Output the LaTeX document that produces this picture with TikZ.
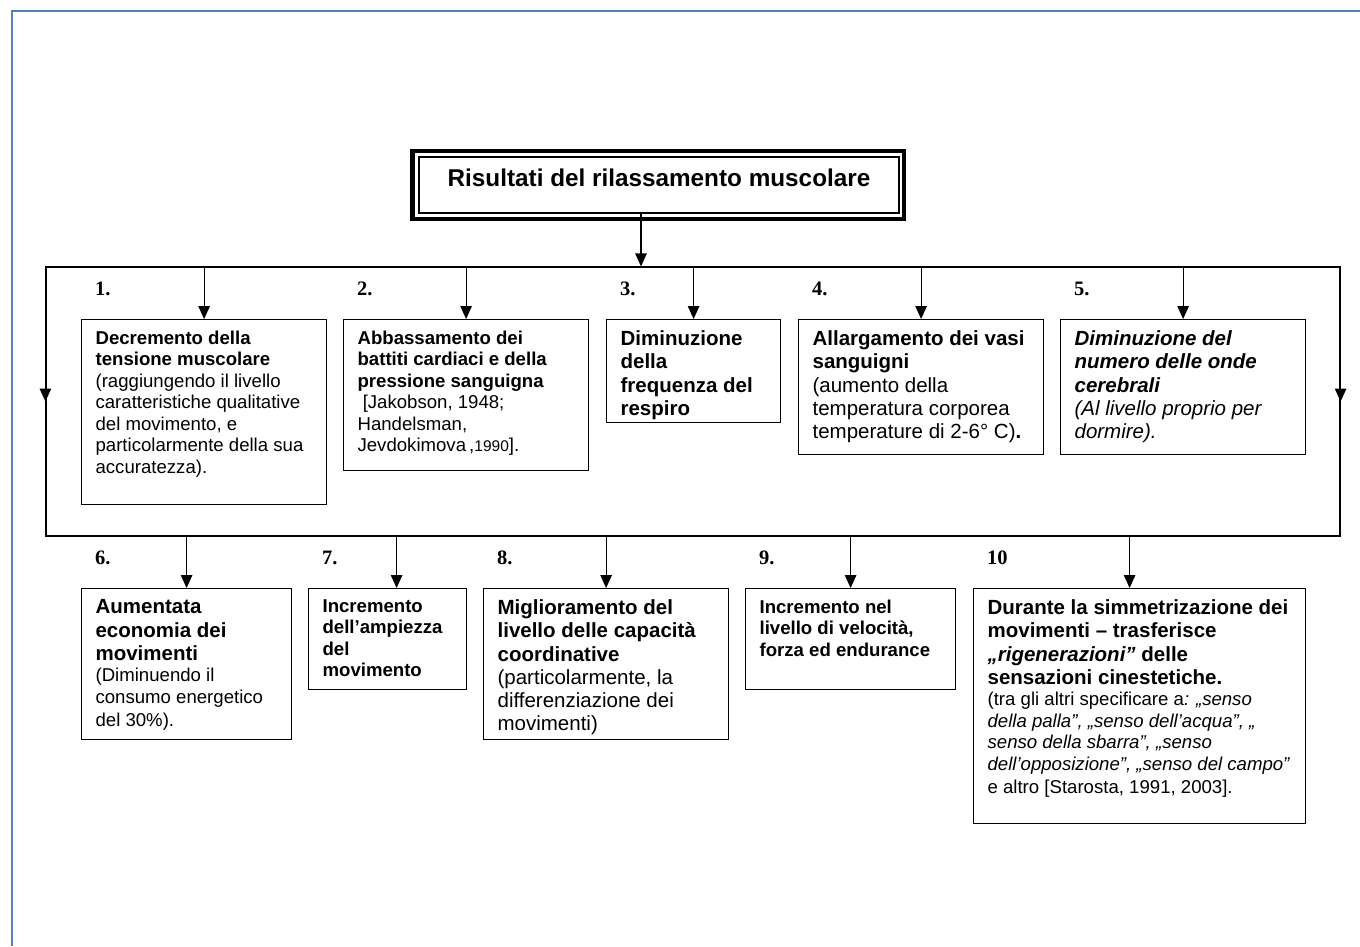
\documentclass[tikz,border=0pt]{standalone}
\usepackage{fontspec}
\setmainfont{Liberation Sans}
\newfontfamily\numfont{Liberation Serif}
\usepackage{tikz}
\usetikzlibrary{positioning,arrows.meta}
\definecolor{frameblue}{RGB}{79,129,189}
\tikzset{
  sm/.style    = {font=\fontsize{18.6}{21.5}\selectfont},
  lg/.style    = {font=\fontsize{20.5}{23.3}\selectfont},
  cell/.style 2 args = {draw, line width=1.2pt, anchor=north west,
                  inner xsep=14pt, inner ysep=11pt,
                  execute at begin node={\begin{minipage}[t][\dimexpr#2pt-22pt\relax][t]{\dimexpr#1pt-28pt\relax}\raggedright},
                  execute at end node={\end{minipage}}},
  num/.style   = {font=\numfont\bfseries\fontsize{20.5}{20.5}\selectfont,
                  anchor=base west, inner sep=0pt},
  ar/.style    = {-{Triangle[length=13pt,width=11.5pt]}, line width=1.2pt},
}
\begin{document}
\begin{tikzpicture}[x=1pt,y=-1pt]
\useasboundingbox (0,0) rectangle (1360,946);
\draw[frameblue, line width=2pt] (12,946) -- (12,11) -- (1360,11);

\node[draw, line width=1.2pt, minimum width=480pt, minimum height=56pt, inner sep=0pt,
      text height=29pt, text depth=27pt, font=\bfseries\fontsize{24.3}{24.3}\selectfont]
     (title) at (659,185) {Risultati del rilassamento muscolare};
\draw[line width=4.5pt] ([xshift=-6pt,yshift=5.5pt]title.north west)
      rectangle ([xshift=4.5pt,yshift=-5.5pt]title.south east);

\node[draw, line width=1.2pt, minimum width=1294pt, minimum height=269pt, inner sep=0pt]
     (frame) at (693,401.5) {};

\node[cell={245}{185}, sm] (r1) at (81,319)
     {\textbf{Decremento della}\\
      \textbf{tensione muscolare}\\
      (raggiungendo il livello\\
      caratteristiche qualitative\\
      del movimento, e\\
      particolarmente della sua\\
      accuratezza).};

\node[cell={245}{151}, sm] (r2) at (343,319)
     {\textbf{Abbassamento dei}\\
      \textbf{battiti cardiaci e della}\\
      \textbf{pressione sanguigna}\\
      \ [Jakobson, 1948;\\
      Handelsman,\\
      Jevdokimova\,,{\fontsize{15.5}{15.5}\selectfont1990}].};

\node[cell={174}{103}, lg] (r3) at (606,319)
     {\textbf{Diminuzione}\\
      \textbf{della}\\
      \textbf{frequenza del}\\
      \textbf{respiro}};

\node[cell={245}{135}, lg] (r4) at (798,319)
     {\textbf{Allargamento dei vasi}\\
      \textbf{sanguigni}\\
      (aumento della\\
      temperatura corporea\\
      temperature di 2-6° C)\textbf{.}};

\node[cell={245}{135}, lg] (r5) at (1060,319)
     {\textbf{\textit{Diminuzione del}}\\
      \textbf{\textit{numero delle onde}}\\
      \textbf{\textit{cerebrali}}\\
      \textit{(Al livello proprio per}\\
      \textit{dormire).}};

\node[cell={210}{151}, lg] (r6) at (81,588)
     {\textbf{Aumentata}\\
      \textbf{economia dei}\\
      \textbf{movimenti}\par
      \fontsize{18.6}{21.5}\selectfont
      (Diminuendo il\\
      consumo energetico\\
      del 30\%).};

\node[cell={158}{101}, sm] (r7) at (308,588)
     {\textbf{Incremento}\\
      \textbf{dell’ampiezza}\\
      \textbf{del}\\
      \textbf{movimento}};

\node[cell={245}{151}, lg] (r8) at (483,588)
     {\textbf{Miglioramento del}\\
      \textbf{livello delle capacità}\\
      \textbf{coordinative}\\
      (particolarmente, la\\
      differenziazione dei\\
      movimenti)};

\node[cell={210}{101}, sm] (r9) at (745,588)
     {\textbf{Incremento nel}\\
      \textbf{livello di velocità,}\\
      \textbf{forza ed endurance}};

\node[cell={332}{235}, lg] (r10) at (973,588)
     {\textbf{Durante la simmetrizazione dei}\\
      \textbf{movimenti – trasferisce}\\
      \textbf{\textit{„rigenerazioni”} delle}\\
      \textbf{sensazioni cinestetiche.}\par
      \fontsize{18.6}{21.5}\selectfont
      (tra gli altri specificare a\textit{: „senso}\\
      \textit{della palla”, „senso dell’acqua”, „}\\
      \textit{senso della sbarra”, „senso}\\
      \textit{dell’opposizione”, „senso del campo”}\\
      e altro [Starosta, 1991, 2003].};

\foreach \i/\t in {1/1., 2/2., 3/3., 4/4., 5/5., 6/6., 7/7., 8/8., 9/9., 10/10}
  {\node[num] (n\i) at ([xshift=14pt,yshift=23.5pt]r\i.north west) {\t};}

\draw[ar] ([xshift=-18pt]title.south) -- ([xshift=-18pt]title.south |- frame.north);
\foreach \n in {r1,r2,r3,r4,r5}{\draw[ar] (\n.north |- frame.north) -- (\n.north);}
\foreach \n/\d in {r6/0, r7/9, r8/0, r9/0, r10/-10}
  {\draw[ar] ([xshift=\d pt]\n.north |- frame.south) -- ([xshift=\d pt]\n.north);}
\draw[ar] (frame.north west) -- (frame.west);
\draw[ar] (frame.north east) -- (frame.east);
\end{tikzpicture}
\end{document}
